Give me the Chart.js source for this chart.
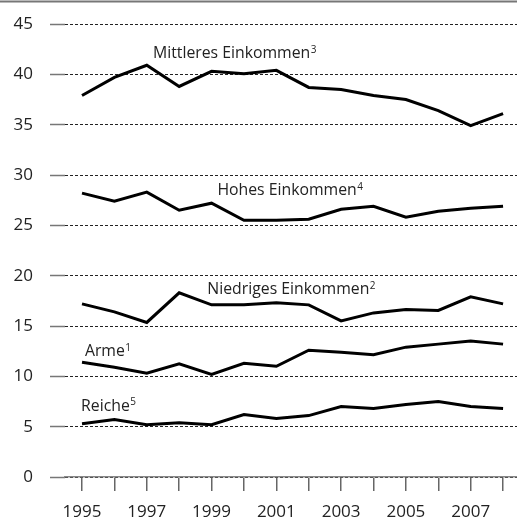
<!DOCTYPE html>
<html>
<head>
<meta charset="utf-8">
<script src="https://cdn.jsdelivr.net/npm/chart.js@4/dist/chart.umd.min.js"></script>
<style>
  html, body { margin: 0; padding: 0; background: #fff; }
  #wrap { width: 517px; height: 520px; position: relative; }
</style>
</head>
<body>
<div id="wrap"><canvas id="chart" width="517" height="520"></canvas></div>
<script>
// years on the x axis
const years = [1995, 1996, 1997, 1998, 1999, 2000, 2001, 2002, 2003, 2004, 2005, 2006, 2007, 2008];

// series values (percent)
const mittleres = [37.9, 39.7, 40.9, 38.8, 40.3, 40.05, 40.4, 38.7, 38.5, 37.9, 37.5, 36.4, 34.9, 36.1];
const hohes     = [28.2, 27.4, 28.3, 26.5, 27.2, 25.5, 25.5, 25.6, 26.6, 26.9, 25.8, 26.4, 26.7, 26.9];
const niedriges = [17.2, 16.4, 15.35, 18.3, 17.1, 17.1, 17.3, 17.1, 15.5, 16.3, 16.65, 16.55, 17.9, 17.2];
const arme      = [11.4, 10.9, 10.3, 11.25, 10.2, 11.3, 11.0, 12.6, 12.4, 12.15, 12.9, 13.2, 13.5, 13.2];
const reiche    = [5.3, 5.7, 5.2, 5.4, 5.2, 6.2, 5.8, 6.1, 7.0, 6.8, 7.2, 7.5, 7.0, 6.8];

// series names and footnote marks
const seriesNames = ['Mittleres Einkommen', 'Hohes Einkommen', 'Niedriges Einkommen', 'Arme', 'Reiche'];
const footnotes = ['3', '4', '2', '1', '5'];

// where each name sits, in data units (year, value of baseline)
const labelAnchors = [
  { x: 1997.19, y: 41.6 },
  { x: 1999.18, y: 28.0 },
  { x: 1998.87, y: 18.17 },
  { x: 1995.09, y: 12.0 },
  { x: 1994.97, y: 6.58 }
];

const FONT = '"Open Sans", "DejaVu Sans", sans-serif';
const TEXT = '#222';

const seriesData = [mittleres, hohes, niedriges, arme, reiche];

// draws the series names next to the lines, with raised footnote numbers
const seriesLabels = {
  id: 'seriesLabels',
  afterDatasetsDraw(chart) {
    const ctx = chart.ctx;
    const xs = chart.scales.x, ys = chart.scales.y;
    ctx.save();
    ctx.fillStyle = TEXT;
    ctx.textBaseline = 'alphabetic';
    ctx.textAlign = 'left';
    seriesNames.forEach((name, i) => {
      const px = xs.getPixelForValue(labelAnchors[i].x);
      const py = ys.getPixelForValue(labelAnchors[i].y);
      ctx.font = '15.8px ' + FONT;
      ctx.fillText(name, px, py);
      const w = ctx.measureText(name).width;
      ctx.font = '10px ' + FONT;
      ctx.fillText(footnotes[i], px + w + 0.5, py - 5.5);
    });
    ctx.restore();
  }
};

// thin rule across the top of the figure
const topRule = {
  id: 'topRule',
  beforeDraw(chart) {
    const ctx = chart.ctx;
    ctx.save();
    ctx.strokeStyle = '#777';
    ctx.lineWidth = 2;
    ctx.beginPath();
    ctx.moveTo(0, 1.5);
    ctx.lineTo(chart.width, 1.5);
    ctx.stroke();
    ctx.restore();
  }
};

const ctx = document.getElementById('chart').getContext('2d');
new Chart(ctx, {
  type: 'line',
  data: {
    datasets: seriesData.map((vals, i) => ({
      label: seriesNames[i],
      data: vals.map((v, j) => ({ x: years[j], y: v })),
      borderColor: '#000',
      borderWidth: 3,
      pointRadius: 0,
      tension: 0,
      fill: false
    }))
  },
  options: {
    responsive: false,
    animation: false,
    layout: { padding: { top: 24, right: 0, left: 0, bottom: 0 } },
    plugins: { legend: { display: false }, tooltip: { enabled: false } },
    scales: {
      x: {
        type: 'linear',
        min: 1994.475,
        max: 2008.43,
        afterBuildTicks: (s) => { s.ticks = years.map(v => ({ value: v })); },
        afterFit: (s) => { s.height = 43; },
        grid: { drawOnChartArea: false, tickLength: 14, color: '#666', lineWidth: 1.5 },
        border: { display: true, color: '#888', width: 1.5 },
        ticks: {
          padding: 11,
          maxRotation: 0,
          autoSkip: false,
          color: TEXT,
          font: { family: FONT, size: 17 },
          callback: (v) => (v % 2 === 1 ? String(v) : '')
        }
      },
      y: {
        min: 0,
        max: 45,
        afterFit: (s) => { s.width = 65; s.paddingTop = 0; s.paddingBottom = 0; },
        grid: { color: '#222', lineWidth: 1, tickLength: 15, tickBorderDash: [], tickColor: '#777', tickWidth: 1.5 },
        border: { display: false, dash: [3, 2] },
        ticks: {
          stepSize: 5,
          padding: 17,
          color: TEXT,
          font: { family: FONT, size: 17 }
        }
      }
    }
  },
  plugins: [topRule, seriesLabels]
});
</script>
</body>
</html>
